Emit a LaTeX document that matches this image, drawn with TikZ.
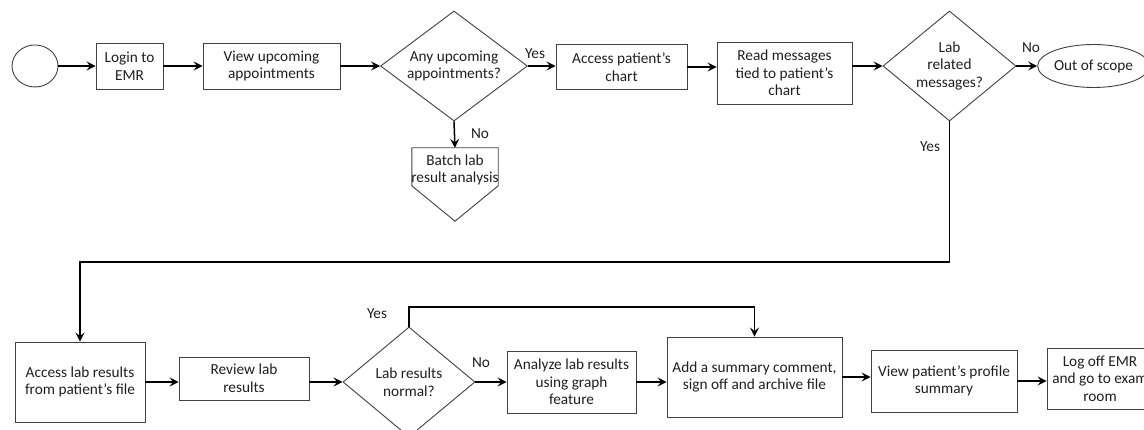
\documentclass[tikz,border=0pt]{standalone}
\usepackage{fontspec}
\setmainfont{Carlito}
\usetikzlibrary{shapes.geometric,arrows.meta}

\begin{document}
\begin{tikzpicture}[x=1pt,y=-1pt,
  txt/.style={font=\fontsize{15.3}{17.6}\selectfont, text=black!88, align=center},
  shapeline/.style={draw=black!75, line width=0.9pt},
  box/.style={txt, shapeline, rectangle, inner sep=0pt},
  dec/.style={txt, shapeline, diamond, inner sep=0pt},
  term/.style={txt, shapeline, ellipse, inner sep=0pt},
  arr/.style={black, line width=1.5pt, -{Stealth[length=9pt,width=9pt,inset=3.5pt]}},
  lbl/.style={txt, inner sep=0pt}
]
\useasboundingbox (0,0) rectangle (1144,430);
\clip (0,0) rectangle (1144,430);

% top row
\node[term, minimum width=46pt, minimum height=42pt] (start) at (35,66) {};
\node[box, minimum width=67pt, minimum height=46pt] (login) at (129.5,66) {Login to\\EMR};
\node[box, minimum width=137pt, minimum height=46pt] (view) at (271.5,66) {View upcoming\\appointments};
\node[dec, minimum width=147pt, minimum height=110pt, shape aspect=1.34] (d1) at (454,66) {Any upcoming\\appointments?};
\node[box, minimum width=131pt, minimum height=45pt] (chart) at (621.5,67) {Access patient’s\\chart};
\node[box, minimum width=135pt, minimum height=62pt] (read) at (784.5,73) {Read messages\\tied to patient’s\\chart};
\node[dec, minimum width=133pt, minimum height=110pt, shape aspect=1.2] (d2) at (949.5,66) {Lab\\related\\messages?};
\node[term, minimum width=93pt, minimum height=43pt] (oos) at (1093.5,66) {Out of scope};

% off-page connector
\node[minimum width=86pt, minimum height=73pt, inner sep=0pt] (batch) at (455,184.5) {};
\draw[shapeline] (batch.north west) -- (batch.north east) -- ([yshift=-38pt]batch.north east)
  -- (batch.south) -- ([yshift=-38pt]batch.north west) -- cycle;
\node[lbl] (batchtxt) at (455,170) {Batch lab\\result analysis};

% bottom row
\node[box, minimum width=130pt, minimum height=80pt] (acc) at (80,382) {Access lab results\\from patient’s file};
\node[box, minimum width=130pt, minimum height=43pt] (rev) at (244,378.5) {Review lab\\results};
\node[dec, minimum width=132pt, minimum height=110pt, shape aspect=1.2] (d3) at (409,382) {Lab results\\normal?};
\node[box, minimum width=129pt, minimum height=62pt] (ana) at (571.5,382) {Analyze lab results\\using graph\\feature};
\node[box, minimum width=175pt, minimum height=80pt] (sum) at (754.5,377) {Add a summary comment,\\sign off and archive file};
\node[box, minimum width=146pt, minimum height=62pt] (prof) at (944,381) {View patient’s profile\\summary};
\node[box, minimum width=106pt, minimum height=61pt] (off) at (1100,378.5) {Log off EMR\\and go to exam\\room};

% branch labels
\node[lbl] (yes1) at (535,54) {Yes};
\node[lbl] (no1) at (480,134) {No};
\node[lbl] (no2) at (1031,48) {No};
\node[lbl] (yes2) at (930,147) {Yes};
\node[lbl] (yes3) at (377,314) {Yes};
\node[lbl] (no3) at (481,363) {No};

% routing rows
\coordinate (looprow) at (0,262);
\coordinate (yesrow) at (0,307);

% connectors, top row
\draw[arr] (start.east) -- (start.east -| login.west);
\draw[arr] (login) -- (view);
\draw[arr] (view) -- (d1);
\draw[arr] (d1.east) -- (d1.east -| chart.west);
\draw[arr] (chart.east) -- (chart.east -| read.west);
\draw[arr] (d2.west -| read.east) -- (d2.west);
\draw[arr] (d2) -- (oos);
\draw[arr] (d1.south) -- (batch.north);
\draw[arr] (d2.south) -- (d2.south |- looprow) -| (acc.north);

% connectors, bottom row
\draw[arr] (acc.east) -- (acc.east -| rev.west);
\draw[arr] (d3.west -| rev.east) -- (d3.west);
\draw[arr] (d3) -- (ana);
\draw[arr] (ana.east) -- (ana.east -| sum.west);
\draw[arr] (sum.east) -- (sum.east -| prof.west);
\draw[arr] (prof.east) -- (prof.east -| off.west);
\draw[arr] (d3.north) -- (d3.north |- yesrow) -| (sum.north);
\end{tikzpicture}
\end{document}
